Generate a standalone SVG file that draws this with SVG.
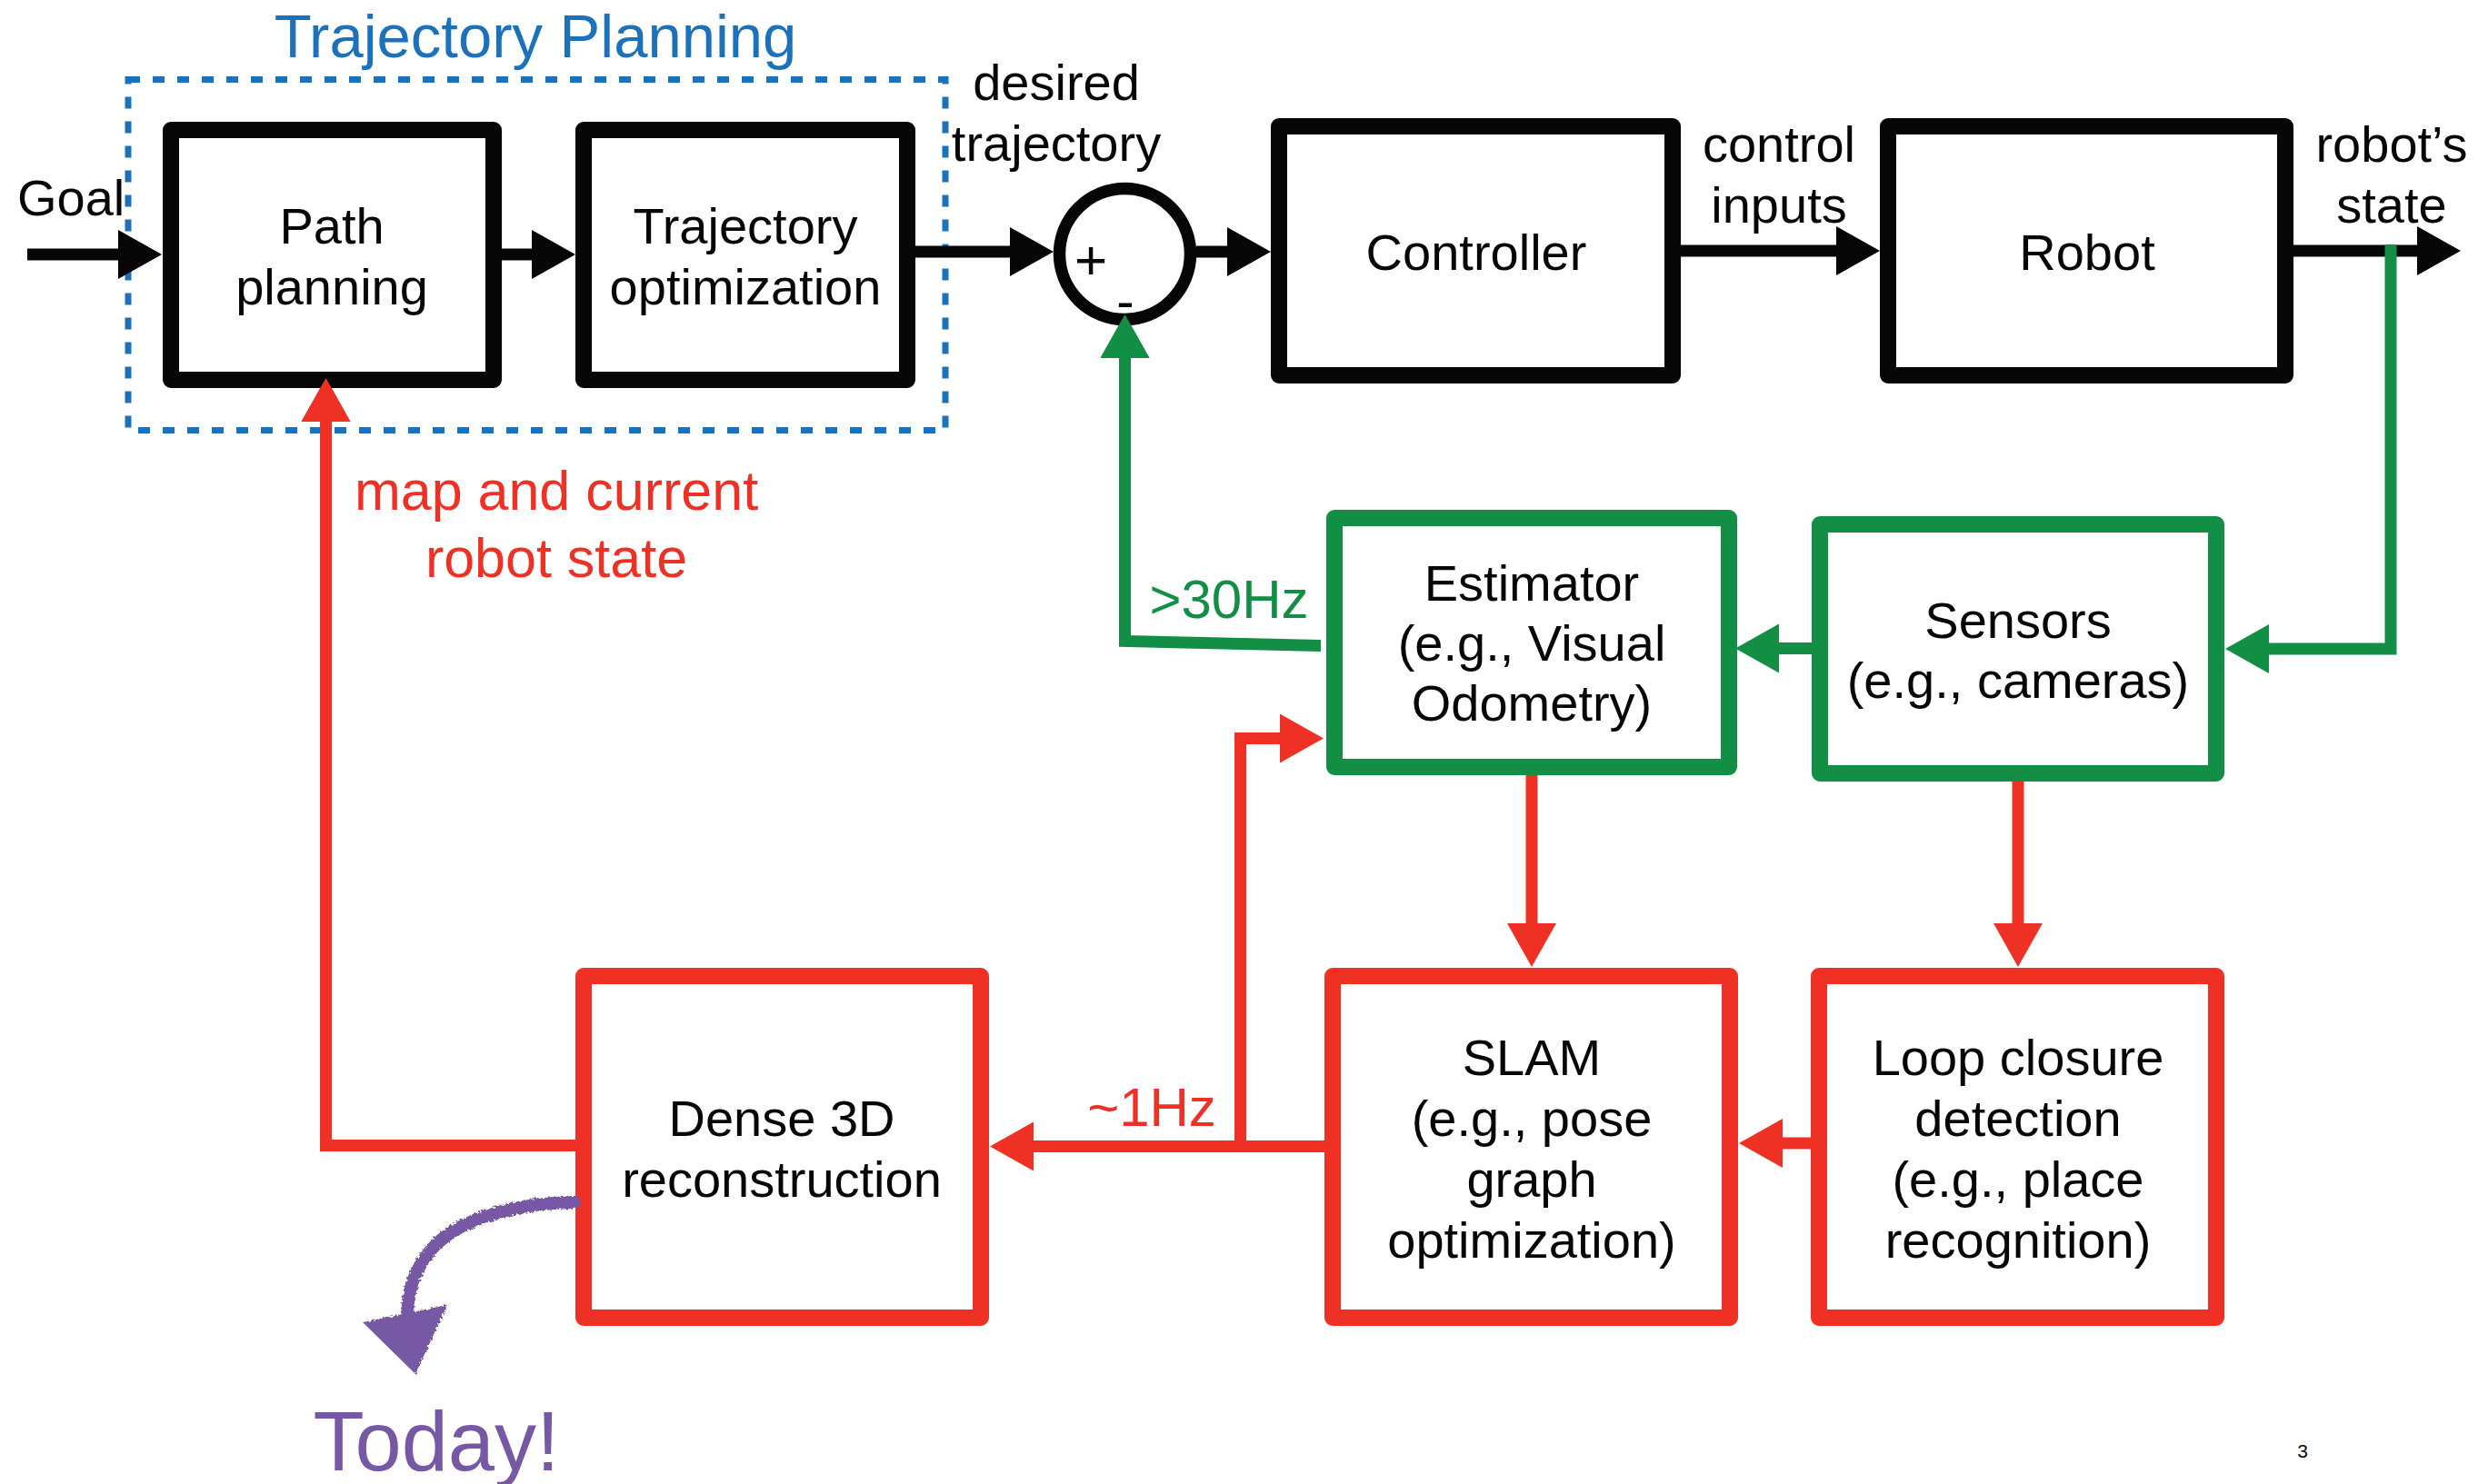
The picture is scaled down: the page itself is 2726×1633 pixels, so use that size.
<svg xmlns="http://www.w3.org/2000/svg" width="2726" height="1633" viewBox="0 0 2726 1633">
  <style>
    text { font-family: "Liberation Sans", Arial, sans-serif; }
    .lbl { font-size: 56px; fill: #060606; text-anchor: middle; }
    .lbl-start { font-size: 56px; fill: #060606; text-anchor: start; }
    .box { fill: #ffffff; stroke-width: 18; stroke-linejoin: round; }
    .bk { stroke: #060606; }
    .gn { stroke: #128F45; }
    .rd { stroke: #EE3124; }
    .ln { fill: none; stroke-width: 13; stroke-linejoin: miter; stroke-linecap: butt; }
  </style>
  <defs>
    <marker id="aK" markerUnits="userSpaceOnUse" markerWidth="50" markerHeight="56" refX="1" refY="27" orient="auto" overflow="visible">
      <path d="M0,0 L48,27 L0,54 z" fill="#060606"/>
    </marker>
    <marker id="aG" markerUnits="userSpaceOnUse" markerWidth="50" markerHeight="56" refX="1" refY="27" orient="auto" overflow="visible">
      <path d="M0,0 L48,27 L0,54 z" fill="#128F45"/>
    </marker>
    <marker id="aR" markerUnits="userSpaceOnUse" markerWidth="50" markerHeight="56" refX="1" refY="27" orient="auto" overflow="visible">
      <path d="M0,0 L48,27 L0,54 z" fill="#EE3124"/>
    </marker>
    <filter id="rough" x="-20%" y="-20%" width="140%" height="140%">
      <feTurbulence type="fractalNoise" baseFrequency="0.35" numOctaves="2" seed="3" result="n"/>
      <feDisplacementMap in="SourceGraphic" in2="n" scale="5"/>
    </filter>
  </defs>
  <rect width="2726" height="1633" fill="#ffffff"/>

  <!-- Trajectory planning group frame -->
  <g id="trajectory-planning">
    <rect x="141" y="87.5" width="899" height="386" fill="none" stroke="#1B72BA" stroke-width="7" stroke-dasharray="13 14"/>
    <text x="589" y="63" font-size="67" fill="#1B72BA" text-anchor="middle">Trajectory Planning</text>
  </g>

  <!-- connectors -->
  <g id="connectors">
    <!-- black forward path -->
    <path class="ln bk" d="M30 280 H131" marker-end="url(#aK)"/>
    <path class="ln bk" d="M552 280 H586" marker-end="url(#aK)"/>
    <path class="ln bk" d="M1007 277 H1112" marker-end="url(#aK)"/>
    <path class="ln bk" d="M1316 277 H1351" marker-end="url(#aK)"/>
    <path class="ln bk" d="M1849 276 H2021" marker-end="url(#aK)"/>
    <path class="ln bk" d="M2523 276 H2660" marker-end="url(#aK)"/>
    <!-- green feedback -->
    <path class="ln gn" d="M2630 269 V714 H2495" marker-end="url(#aG)"/>
    <path class="ln gn" d="M1993 713.5 H1956" marker-end="url(#aG)"/>
    <path class="ln gn" d="M1453 710.5 L1237.5 705.5 V393" marker-end="url(#aG)"/>
    <!-- red back-end -->
    <path class="ln rd" d="M1685 853 V1017" marker-end="url(#aR)"/>
    <path class="ln rd" d="M2220 860 V1017" marker-end="url(#aR)"/>
    <path class="ln rd" d="M1992 1258 H1960" marker-end="url(#aR)"/>
    <path class="ln rd" d="M1457 1261.5 H1136" marker-end="url(#aR)"/>
    <path class="ln rd" d="M1364.5 1262 V812.5 H1409" marker-end="url(#aR)"/>
    <path class="ln rd" d="M633 1260.5 H358.5 V463" marker-end="url(#aR)"/>
    <!-- connector labels -->
    <text class="lbl-start" x="19" y="237">Goal</text>
    <text class="lbl" x="1162" y="110">desired</text>
    <text class="lbl" x="1162" y="177">trajectory</text>
    <text class="lbl" x="1957" y="178">control</text>
    <text class="lbl" x="1957" y="245">inputs</text>
    <text class="lbl" x="2631" y="178">robot’s</text>
    <text class="lbl" x="2631" y="245">state</text>
    <text x="612" y="561" font-size="61" fill="#EE3124" text-anchor="middle">map and current</text>
    <text x="612" y="635" font-size="61" fill="#EE3124" text-anchor="middle">robot state</text>
    <text x="1352" y="680" font-size="60" fill="#128F45" text-anchor="middle">&gt;30Hz</text>
    <text x="1267" y="1239" font-size="60" fill="#EE3124" text-anchor="middle">~1Hz</text>
  </g>

  <!-- summing junction -->
  <g id="sum-junction">
    <circle cx="1237.5" cy="279.5" r="72" fill="#ffffff" stroke="#060606" stroke-width="13.5"/>
    <text x="1200" y="307" font-size="62" fill="#060606" text-anchor="middle">+</text>
    <text x="1238" y="351" font-size="58" fill="#060606" text-anchor="middle">-</text>
  </g>
  <path class="ln gn" d="M1237.5 420 V393" marker-end="url(#aG)"/>

  <g id="node-path-planning">
    <rect class="box bk" x="188" y="143" width="355" height="275"/>
    <text class="lbl" x="365" y="268">Path</text>
    <text class="lbl" x="365" y="335">planning</text>
  </g>
  <g id="node-trajectory-optimization">
    <rect class="box bk" x="642" y="143" width="356" height="275"/>
    <text class="lbl" x="820" y="268">Trajectory</text>
    <text class="lbl" x="820" y="335">optimization</text>
  </g>
  <g id="node-controller">
    <rect class="box bk" x="1407" y="139" width="433" height="274"/>
    <text class="lbl" x="1624" y="297">Controller</text>
  </g>
  <g id="node-robot">
    <rect class="box bk" x="2077" y="139" width="437" height="274"/>
    <text class="lbl" x="2296" y="297">Robot</text>
  </g>
  <g id="node-estimator">
    <rect class="box gn" x="1468" y="570" width="434" height="274"/>
    <text class="lbl" x="1685" y="661">Estimator</text>
    <text class="lbl" x="1685" y="727">(e.g., Visual</text>
    <text class="lbl" x="1685" y="793">Odometry)</text>
  </g>
  <g id="node-sensors">
    <rect class="box gn" x="2002" y="577" width="436" height="274"/>
    <text class="lbl" x="2220" y="702">Sensors</text>
    <text class="lbl" x="2220" y="768">(e.g., cameras)</text>
  </g>
  <g id="node-dense-3d">
    <rect class="box rd" x="642" y="1074" width="437" height="376"/>
    <text class="lbl" x="860" y="1250">Dense 3D</text>
    <text class="lbl" x="860" y="1317">reconstruction</text>
  </g>
  <g id="node-slam">
    <rect class="box rd" x="1466" y="1074" width="437" height="376"/>
    <text class="lbl" x="1685" y="1183">SLAM</text>
    <text class="lbl" x="1685" y="1250">(e.g., pose</text>
    <text class="lbl" x="1685" y="1317">graph</text>
    <text class="lbl" x="1685" y="1384">optimization)</text>
  </g>
  <g id="node-loop-closure">
    <rect class="box rd" x="2001" y="1074" width="437" height="376"/>
    <text class="lbl" x="2220" y="1183">Loop closure</text>
    <text class="lbl" x="2220" y="1250">detection</text>
    <text class="lbl" x="2220" y="1317">(e.g., place</text>
    <text class="lbl" x="2220" y="1384">recognition)</text>
  </g>

  <!-- arrow tip over path planning border -->
  <g id="connector-tips">
    <path class="ln rd" d="M358.5 470 V463" marker-end="url(#aR)"/>
  </g>

  <g id="today-note">
    <g filter="url(#rough)" fill="#7758A5">
      <path d="M632 1323 C565 1324 500 1342 472 1378 C455 1400 449 1420 448 1444" fill="none" stroke="#7758A5" stroke-width="14" stroke-linecap="round"/>
      <path d="M399 1455 L492 1436 L457 1512 Z"/>
    </g>
    <text x="480" y="1618" font-size="92" fill="#7758A5" text-anchor="middle">Today!</text>
  </g>

  <text x="2533" y="1604" font-size="21" fill="#060606" text-anchor="middle">3</text>
</svg>
